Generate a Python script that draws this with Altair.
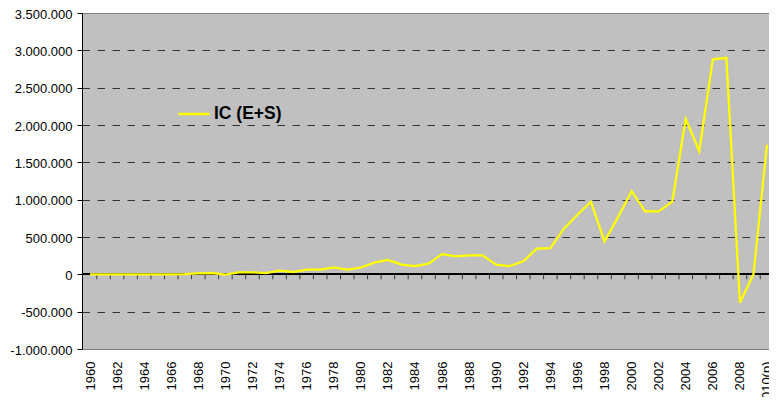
import altair as alt
import pandas as pd

years = list(range(1960, 2011))
values = [
    0, 0, 0, 0, 0, 0, 0, 2000, 13000, 18000,
    -5000, 27000, 27000, 15000, 49000, 31000, 62000, 62000, 94000, 62000,
    89000, 156000, 192000, 130000, 111000, 143000, 271000, 241000, 254000, 254000,
    130000, 111000, 174000, 343000, 352000, 611000, 798000, 972000, 441000, 766000,
    1114000, 842000, 842000, 972000, 2081000, 1649000, 2880000, 2900000, -380000, 0,
    1738000,
]
series_name = "IC (E+S)"
y_ticks = list(range(-1000000, 3500001, 500000))
x_label_years = list(range(1960, 2011, 2))

df = pd.DataFrame({"year": years, "value": values, "series": series_name})

FONT = "Liberation Sans, Arial, sans-serif"

xscale = alt.Scale(domain=[1959.409, 2010.148], nice=False, zero=False)
yscale = alt.Scale(domain=[-1000000, 3500000], nice=False, zero=False)

xaxis = alt.Axis(values=x_label_years, title=None, domain=False, ticks=False,
                 tickSize=0, grid=False, labelAngle=270, labelPadding=12,
                 labelFontSize=13, labelFont=FONT, labelColor="black",
                 labelOverlap=False, labelFlush=False, labelBound=False,
                 labelExpr="datum.value == 2010 ? '2010(p)' : format(datum.value, 'd')")
yaxis = alt.Axis(values=y_ticks, title=None, domainColor="black", domainWidth=1,
                 tickColor="black", tickSize=5, labelPadding=5, labelOffset=1,
                 labelFontSize=13, labelFont=FONT, labelColor="black",
                 labelOverlap=False, labelBound=False, labelFlush=False,
                 grid=True, gridColor="#333333", gridDash=[7.5, 7.5], gridWidth=1,
                 gridOpacity={"condition": {"test": "datum.value == 3500000 || datum.value == -1000000", "value": 0}, "value": 1},
                 labelExpr="replace(join(split(format(datum.value, ',d'), ','), '.'), '\u2212', '-')")

X = alt.X("year:Q", scale=xscale, axis=xaxis)
Y = alt.Y("value:Q", scale=yscale, axis=yaxis)

# zero (category) axis line
zero = alt.Chart(df).transform_calculate(value="0").mark_rule(
    color="black", strokeWidth=1
).encode(y=Y)

# tick marks between categories on the zero axis
ticks = alt.Chart(df).transform_calculate(
    year="datum.year + 0.5", value="0"
).mark_tick(orient="vertical", size=5, thickness=1, yOffset=2.5, color="black").encode(
    x=X, y=Y
)

line = alt.Chart(df).mark_line(strokeWidth=2.3).encode(
    x=X, y=Y,
    color=alt.Color("series:N", scale=alt.Scale(range=["#FFFF00"]),
                    legend=alt.Legend(title=None, orient="none", legendX=95, legendY=84,
                                      symbolType="stroke", symbolSize=961, symbolStrokeWidth=2.5,
                                      labelFont=FONT, labelFontSize=17.5, labelFontWeight="bold",
                                      labelColor="black", labelOffset=3, padding=0)),
)

chart = alt.layer(zero, ticks, line).properties(
    width=687, height=336,
    autosize=alt.AutoSizeParams(type="none"),
    padding={"left": 74, "top": 5, "right": 0, "bottom": 48},
    background="white",
).configure_view(
    fill="#C0C0C0", stroke="#808080", strokeWidth=1
)

chart.save("out.html", embed_options={"renderer": "svg", "actions": False})
